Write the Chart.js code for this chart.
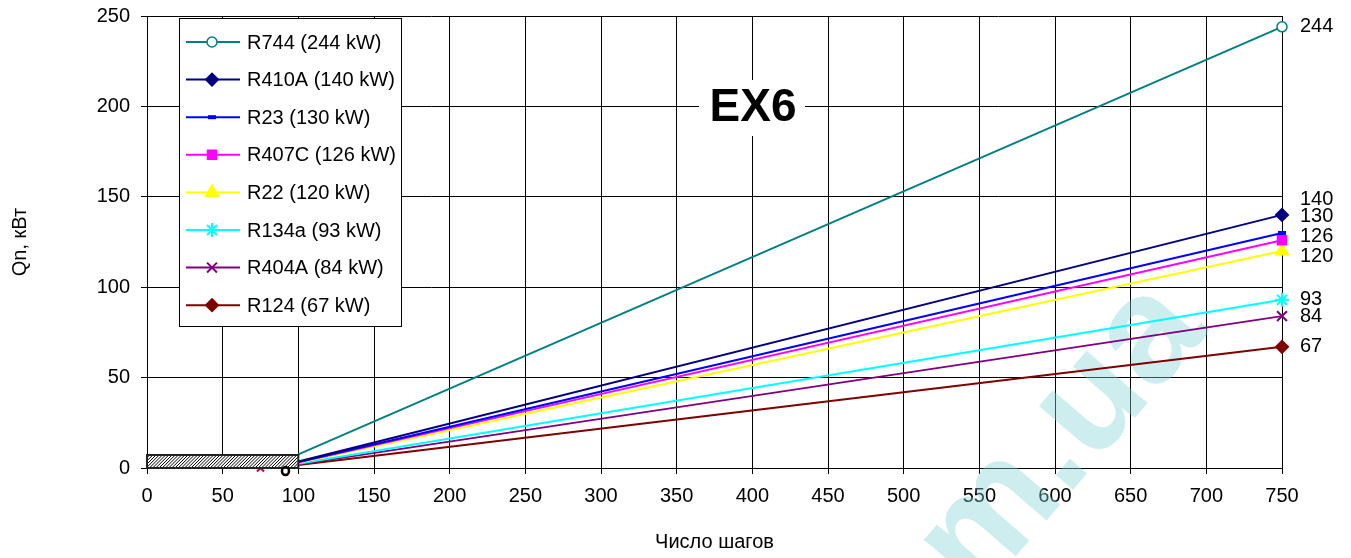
<!DOCTYPE html>
<html lang="ru">
<head>
  <meta charset="UTF-8" />
  <title>EX6</title>
  <script src="https://cdn.jsdelivr.net/npm/chart.js"></script>
  <style>
    body { margin: 0; background: #fff; }
    #wrap { width: 1351px; height: 558px; position: relative; }
  </style>
</head>
<body>
  <div id="wrap"><canvas id="chart"></canvas></div>

  <script>
    // data
    const refrigerants = ['R744', 'R410A', 'R23', 'R407C', 'R22', 'R134a', 'R404A', 'R124'];
    const capacityKW = [244, 140, 130, 126, 120, 93, 84, 67];
    const valueAt100 = [7.5, 3.6, 3.3, 3.1, 2.9, 2.3, 2.0, 1.6];
    const stepsStart = 100;
    const stepsEnd = 750;
    const xTicks = [0, 50, 100, 150, 200, 250, 300, 350, 400, 450, 500, 550, 600, 650, 700, 750];
    const yTicks = [0, 50, 100, 150, 200, 250];
    const deadZone = { x0: 0, x1: 100, y0: 0, y1: 7.2 };
    const strayPoints = [{ x: 75, y: 0 }];

    // styles
    const colors = ['#008080', '#000080', '#0000ff', '#ff00ff', '#ffff00', '#00ffff', '#800080', '#800000'];
    const markers = ['circle', 'rectRot', 'line', 'rect', 'triangle', 'star', 'crossRot', 'rectRot'];
    const markerSize = [5, 6, 4, 6, 7, 7, 7, 6];
    const labelShift = [0, -15, -16, -4, 5, 0, 0, 0];

    const font = 'Liberation Sans, Arial, sans-serif';
    const fs = 20;

    const datasets = refrigerants.map((name, i) => ({
      label: name + ' (' + capacityKW[i] + ' kW)',
      data: [{ x: stepsStart, y: valueAt100[i] }, { x: stepsEnd, y: capacityKW[i] }],
      borderColor: colors[i],
      backgroundColor: markers[i] === 'circle' ? '#fff' : colors[i],
      pointBorderColor: colors[i],
      pointStyle: markers[i],
      pointRadius: [0, markerSize[i]],
      pointBorderWidth: markers[i] === 'line' ? 4 : (markers[i] === 'circle' ? 1.5 : 2),
      borderWidth: 2,
      tension: 0,
      clip: false
    }));

    datasets.push({
      label: '_stray',
      data: strayPoints,
      showLine: false,
      pointStyle: 'crossRot',
      pointRadius: 5,
      pointBorderWidth: 2,
      borderColor: '#c00040',
      backgroundColor: '#c00040',
      clip: false
    });

    const decor = {
      id: 'decor',
      beforeDatasetsDraw(chart) {
        // watermark sits under the lines
        const ctx = chart.ctx;
        ctx.save();
        ctx.translate(978, 600);
        ctx.rotate(-0.86);
        ctx.fillStyle = 'rgba(130, 210, 215, 0.4)';
        ctx.font = 'bold 152px ' + font;
        ctx.fillText('m.ua', 0, 0);
        ctx.restore();
      },
      afterDatasetsDraw(chart) {
        const ctx = chart.ctx;
        const xs = chart.scales.x, ys = chart.scales.y;
        // hatched zone
        const l = xs.getPixelForValue(deadZone.x0), r = xs.getPixelForValue(deadZone.x1);
        const t = ys.getPixelForValue(deadZone.y1), b = ys.getPixelForValue(deadZone.y0);
        ctx.save();
        ctx.fillStyle = '#fff';
        ctx.fillRect(l, t, r - l, b - t);
        ctx.beginPath();
        ctx.rect(l, t, r - l, b - t);
        ctx.clip();
        ctx.strokeStyle = '#000';
        ctx.lineWidth = 1;
        ctx.beginPath();
        for (let k = l - 20; k < r + 20; k += 3.2) {
          ctx.moveTo(k, b);
          ctx.lineTo(k + (b - t), t);
        }
        ctx.stroke();
        ctx.restore();
        ctx.save();
        ctx.strokeStyle = '#222';
        ctx.lineWidth = 2;
        ctx.strokeRect(l, t, r - l, b - t);
        // black "o" near the axis
        ctx.lineWidth = 2.5;
        ctx.strokeStyle = '#000';
        ctx.beginPath();
        ctx.ellipse(xs.getPixelForValue(91.5), b + 3, 3.5, 4, 0, 0, Math.PI * 2);
        ctx.stroke();
        ctx.restore();
      },
      afterDraw(chart) {
        const ctx = chart.ctx;
        const xs = chart.scales.x, ys = chart.scales.y;
        ctx.save();

        // value labels on the right
        ctx.font = fs + 'px ' + font;
        ctx.fillStyle = '#000';
        ctx.textBaseline = 'middle';
        ctx.textAlign = 'left';
        capacityKW.forEach((v, i) => {
          ctx.fillText(String(v), xs.getPixelForValue(stepsEnd) + 18, ys.getPixelForValue(v) + labelShift[i]);
        });

        // EX6 title
        ctx.fillStyle = '#fff';
        ctx.fillRect(699, 80, 106, 56);
        ctx.fillStyle = '#000';
        ctx.font = 'bold 46px ' + font;
        ctx.textAlign = 'center';
        ctx.fillText('EX6', 753, 108);

        // legend
        const lx = 179, ly = 18, lw = 222, lh = 308;
        ctx.fillStyle = '#fff';
        ctx.fillRect(lx, ly, lw, lh);
        ctx.strokeStyle = '#000';
        ctx.lineWidth = 1;
        ctx.strokeRect(lx + 0.5, ly + 0.5, lw, lh);
        ctx.font = fs + 'px ' + font;
        ctx.textAlign = 'left';
        chart.data.datasets.forEach((ds, i) => {
          if (ds.label.startsWith('_')) return;
          const y = 42 + i * 37.6;
          ctx.strokeStyle = ds.borderColor;
          ctx.lineWidth = 2;
          ctx.beginPath();
          ctx.moveTo(186, y);
          ctx.lineTo(240, y);
          ctx.stroke();
          ctx.lineWidth = ds.pointBorderWidth;
          ctx.fillStyle = ds.backgroundColor;
          Chart.helpers.drawPoint(ctx, {
            pointStyle: ds.pointStyle,
            radius: markerSize[i],
            borderWidth: ds.pointBorderWidth,
            rotation: 0
          }, 212, y);
          ctx.fillStyle = '#000';
          ctx.fillText(ds.label, 247, y + 1);
        });

        ctx.restore();
      }
    };

    new Chart(document.getElementById('chart'), {
      type: 'line',
      data: { datasets: datasets },
      options: {
        responsive: true,
        maintainAspectRatio: false,
        animation: false,
        layout: { padding: { top: 16, right: 69, left: 8, bottom: 0 } },
        plugins: {
          legend: { display: false },
          tooltip: { enabled: false }
        },
        scales: {
          x: {
            type: 'linear',
            min: 0,
            max: 750,
            afterBuildTicks: s => { s.ticks = xTicks.map(v => ({ value: v })); },
            afterFit: s => { s.paddingLeft = 0; s.paddingRight = 0; },
            ticks: { color: '#000', font: { size: fs, family: font }, padding: 10, maxRotation: 0 },
            grid: { color: '#000', lineWidth: 1, tickLength: 6 },
            border: { color: '#000', width: 1 },
            title: { display: true, text: 'Число шагов', color: '#000', font: { size: fs, family: font }, padding: { top: 12 } }
          },
          y: {
            min: 0,
            max: 250,
            afterBuildTicks: s => { s.ticks = yTicks.map(v => ({ value: v })); },
            afterFit: s => { s.width = 139; s.paddingTop = 0; s.paddingBottom = 0; },
            ticks: { color: '#000', font: { size: fs, family: font }, padding: 11 },
            grid: { color: '#000', lineWidth: 1, tickLength: 6 },
            border: { color: '#000', width: 1 },
            title: { display: true, text: 'Qn, кВт', color: '#000', font: { size: fs, family: font }, padding: 0 }
          }
        }
      },
      plugins: [decor]
    });
  </script>
</body>
</html>
